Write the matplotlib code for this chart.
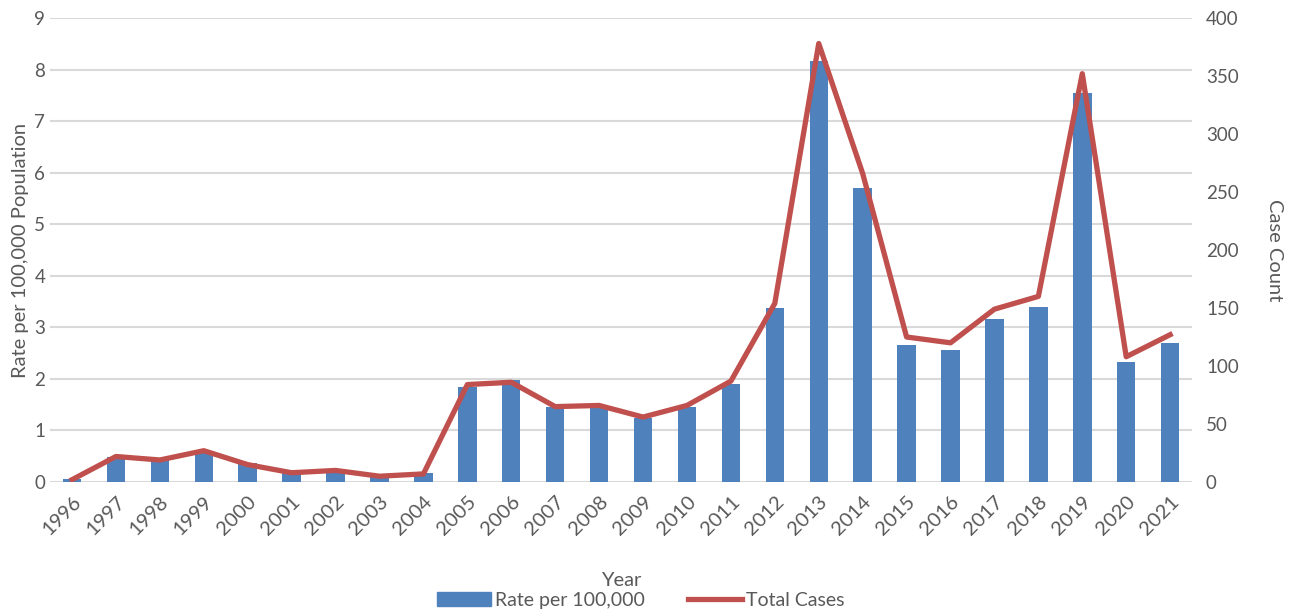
import matplotlib.pyplot as plt
from matplotlib.patches import Patch
from matplotlib.lines import Line2D

years = [str(y) for y in range(1996, 2022)]
rate = [0.05, 0.49, 0.43, 0.56, 0.37, 0.20, 0.23, 0.10, 0.17, 1.84,
        1.98, 1.46, 1.46, 1.24, 1.46, 1.91, 3.37, 8.17, 5.71, 2.66,
        2.56, 3.17, 3.40, 7.55, 2.33, 2.70]
cases = [2, 22, 19, 27, 15, 8, 10, 5, 7, 84,
         86, 65, 66, 56, 66, 87, 154, 378, 266, 125,
         120, 149, 160, 352, 108, 127]

plt.rcParams['font.family'] = ['Lato', 'DejaVu Sans']
grey = '#595959'
bar_color = '#4F81BD'
line_color = '#C0504D'

fig = plt.figure(figsize=(13, 6.16), dpi=100)
ax = fig.add_axes([0.0385, 0.2175, 0.8785, 0.7533])
x = list(range(len(years)))

ax.bar(x, rate, width=0.42, color=bar_color, zorder=2)
ax.set_ylim(0, 9)
ax.set_yticks(range(0, 10))
ax.set_xlim(-0.5, len(years) - 0.5)
ax.grid(axis='y', color='#d9d9d9', linewidth=1.5, zorder=0)
ax.set_axisbelow(True)
for s in ax.spines.values():
    s.set_visible(False)
ax.tick_params(length=0, colors=grey, labelsize=13.5)
ax.set_xticks(x)
ax.set_xticklabels(years, rotation=45, ha='right', rotation_mode='anchor', fontsize=14.5)
ax.tick_params(axis='x', pad=8)
ax.set_ylabel('Rate per 100,000 Population', color=grey, fontsize=14.5, labelpad=4)
ax.set_xlabel('Year', color=grey, fontsize=14.5, labelpad=24)

ax2 = ax.twinx()
ax2.plot(x, cases, color=line_color, linewidth=3.8, zorder=3)
ax2.set_ylim(0, 400)
ax2.set_yticks(range(0, 401, 50))
for s in ax2.spines.values():
    s.set_visible(False)
ax2.tick_params(length=0, colors=grey, labelsize=13.5, pad=10)
ax2.set_ylabel('Case Count', color=grey, fontsize=14.5, rotation=270, labelpad=32)

handles = [Patch(color=bar_color), Line2D([], [], color=line_color, linewidth=3.8)]
fig.legend(handles, ['Rate per 100,000', 'Total Cases'], loc='center',
           bbox_to_anchor=(0.493, 0.025), ncol=2, frameon=False,
           fontsize=14, labelcolor=grey, handlelength=2.8, columnspacing=2.2,
           handletextpad=0.2)

fig.savefig('out.png', dpi=100)
